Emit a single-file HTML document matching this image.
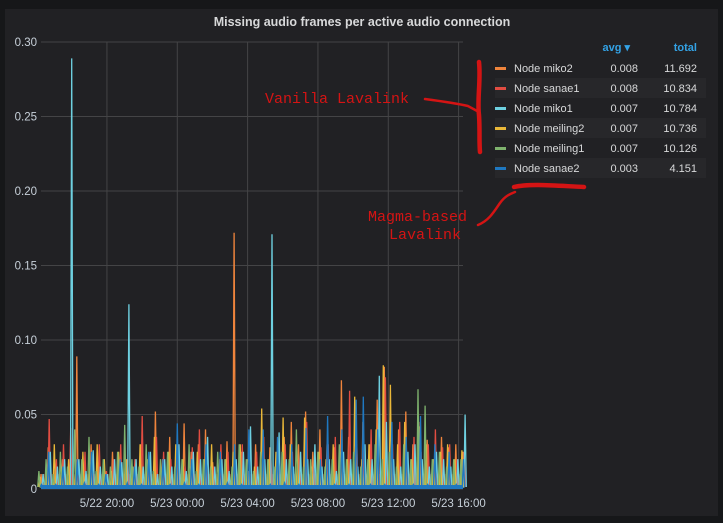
<!DOCTYPE html>
<html><head><meta charset="utf-8"><style>
html,body{margin:0;padding:0;background:#161719;width:723px;height:523px;overflow:hidden;font-family:"Liberation Sans",sans-serif}
#panel{position:absolute;left:5px;top:9px;width:713px;height:507px;background:#212124}
svg{position:absolute;left:0;top:0}
</style></head><body>
<div id="panel"></div>
<svg id="chart" width="723" height="523"></svg>
<script>
const timeLabels=["5/22 20:00","5/23 00:00","5/23 04:00","5/23 08:00","5/23 12:00","5/23 16:00"];
const timeTickHours=[3.75,7.75,11.75,15.75,19.75,23.75];
const yTicks=[0,0.05,0.10,0.15,0.20,0.25,0.30];
const yTickLabels=["0","0.05","0.10","0.15","0.20","0.25","0.30"];
const seriesNames=["Node miko2","Node sanae1","Node miko1","Node meiling2","Node meiling1","Node sanae2"];
const seriesColors=["#ef843c","#e24d42","#6ed0e0","#eab839","#7eb26d","#1f78c1"];
const seriesAvg=["0.008","0.008","0.007","0.007","0.007","0.003"];
const seriesTotal=["11.692","10.834","10.784","10.736","10.126","4.151"];
const miko2=[0.01,0.028,0.015,0.02,0.008,0.089,0.012,0.03,0.018,0.01,0.025,0.015,0.02,0.012,0.03,0.018,0.052,0.02,0.035,0.015,0.044,0.025,0.03,0.04,0.018,0.02,0.032,0.172,0.025,0.012,0.03,0.02,0.028,0.018,0.035,0.045,0.03,0.052,0.025,0.04,0.03,0.028,0.073,0.035,0.02,0.045,0.03,0.06,0.082,0.035,0.04,0.052,0.03,0.045,0.033,0.02,0.035,0.028,0.03,0.025];
const sanae1=[0.005,0.047,0.02,0.03,0.041,0.01,0.025,0.015,0.03,0.012,0.02,0.03,0.015,0.02,0.049,0.012,0.035,0.025,0.02,0.03,0.015,0.028,0.04,0.02,0.015,0.03,0.025,0.02,0.03,0.012,0.025,0.035,0.02,0.018,0.03,0.025,0.02,0.045,0.015,0.028,0.03,0.035,0.012,0.066,0.03,0.025,0.04,0.02,0.075,0.03,0.045,0.02,0.035,0.025,0.03,0.04,0.028,0.03,0.02,0.025];
const miko1=[0.01,0.025,0.015,0.02,0.289,0.02,0.012,0.026,0.015,0.01,0.02,0.018,0.124,0.02,0.015,0.025,0.01,0.02,0.015,0.03,0.012,0.025,0.02,0.035,0.015,0.02,0.012,0.02,0.025,0.042,0.015,0.02,0.171,0.038,0.02,0.015,0.025,0.02,0.03,0.015,0.02,0.012,0.025,0.02,0.015,0.03,0.02,0.076,0.045,0.02,0.015,0.025,0.03,0.02,0.015,0.025,0.02,0.015,0.02,0.05];
const meiling2=[0.008,0.012,0.03,0.015,0.02,0.01,0.025,0.018,0.03,0.02,0.012,0.025,0.02,0.015,0.03,0.02,0.035,0.012,0.025,0.03,0.02,0.015,0.025,0.02,0.03,0.012,0.02,0.025,0.03,0.02,0.015,0.054,0.02,0.025,0.048,0.03,0.02,0.048,0.015,0.025,0.02,0.03,0.025,0.02,0.062,0.02,0.03,0.04,0.083,0.07,0.03,0.045,0.02,0.042,0.03,0.02,0.025,0.03,0.02,0.026];
const meiling1=[0.012,0.02,0.01,0.025,0.015,0.04,0.02,0.035,0.012,0.02,0.015,0.025,0.043,0.02,0.015,0.03,0.012,0.02,0.025,0.015,0.02,0.03,0.012,0.02,0.015,0.025,0.02,0.015,0.03,0.02,0.012,0.025,0.02,0.015,0.025,0.02,0.04,0.015,0.02,0.025,0.015,0.02,0.03,0.02,0.025,0.015,0.02,0.03,0.02,0.025,0.015,0.03,0.02,0.067,0.056,0.02,0.025,0.015,0.02,0.02];
const sanae2=[0.003,0.025,0.003,0.015,0.002,0.02,0.004,0.025,0.003,0.01,0.002,0.02,0.004,0.015,0.003,0.025,0.002,0.02,0.003,0.044,0.004,0.02,0.003,0.03,0.002,0.025,0.004,0.03,0.003,0.04,0.002,0.04,0.003,0.035,0.004,0.03,0.003,0.041,0.002,0.02,0.049,0.003,0.04,0.003,0.06,0.062,0.003,0.04,0.003,0.045,0.002,0.035,0.003,0.049,0.003,0.03,0.002,0.025,0.003,0.02];
const seriesData=[miko2,sanae1,miko1,meiling2,meiling1,sanae2];
const seriesOffset=[0.0,0.35,0.7,-0.35,-0.7,0.15];

const NS="http://www.w3.org/2000/svg";
const svg=document.getElementById('chart');
const L=41,R=463,T=42,B=489,SPAN=24;
function xH(h){return L+(h/SPAN)*(R-L);}
function xI(i,n){return xH(i*SPAN/(n-1));}
function yV(v){return B-(v/0.30)*(B-T);}
function mk(tag,attrs,txt){const e=document.createElementNS(NS,tag);for(const k in attrs)e.setAttribute(k,attrs[k]);if(txt!==undefined)e.textContent=txt;svg.appendChild(e);return e;}

let t=mk('text',{x:362,y:26,'text-anchor':'middle',fill:'#d8d9da','font-size':12.5,'font-weight':'bold'},'Missing audio frames per active audio connection');



yTicks.forEach((v,i)=>{
  const g=mk('line',{x1:L,x2:R,y1:yV(v),y2:yV(v),stroke:'#444446','stroke-width':1});
  
  
  const lb=mk('text',{x:37,y:yV(v)+4,'text-anchor':'end',fill:'#c7d0d9','font-size':11.5},yTickLabels[i]);
  
  
});
timeTickHours.forEach((h,i)=>{
  const g=mk('line',{x1:xH(h),x2:xH(h),y1:T,y2:B,stroke:'#444446','stroke-width':1});
  
  
  const lb=mk('text',{x:xH(h),y:507,'text-anchor':'middle',fill:'#c7d0d9','font-size':11.5},timeLabels[i]);
  
  
});

// low-level dense band
const band=mk('rect',{x:L,y:yV(0.01),width:R-L,height:B-yV(0.01),fill:'#d8573a',opacity:0.45});



seriesData.forEach((arr,s)=>{
  const n=arr.length;
  let d='';
  arr.forEach((v,i)=>{
    const x=xI(i,n)+seriesOffset[s]*3;
    const x0=(x-1.2).toFixed(1), x1=(x+1.2).toFixed(1);
    d+=(i===0?'M':'L')+x0+','+(B-2).toFixed(1)+' L'+x.toFixed(1)+','+yV(v).toFixed(1)+' L'+x1+','+(B-2).toFixed(1)+' ';
  });
  const p=mk('path',{d:d,fill:'none',stroke:seriesColors[s],'stroke-width':1.3});
  
  
});
const base=mk('rect',{x:L,y:B-4,width:R-L,height:4,fill:'#1f78c1'});



// legend
let h1=mk('text',{x:630,y:51,'text-anchor':'end',fill:'#33a2e5','font-size':11,'font-weight':'bold'},'avg ▾');


let h2=mk('text',{x:697,y:51,'text-anchor':'end',fill:'#33a2e5','font-size':11,'font-weight':'bold'},'total');


seriesNames.forEach((n,i)=>{
  const y=68+i*20;
  if(i%2===1){
    const bg=mk('rect',{x:495,y:y-10,width:211,height:20,fill:'#27272a'});
    
    
  }
  const sw=mk('rect',{x:495,y:y-1,width:11,height:3,fill:seriesColors[i]});
  
  
  const tx=mk('text',{x:514,y:y+4,fill:'#d8d9da','font-size':11},n);
  
  
  const a=mk('text',{x:638,y:y+4,'text-anchor':'end',fill:'#d8d9da','font-size':11},seriesAvg[i]);
  
  
  const tt=mk('text',{x:697,y:y+4,'text-anchor':'end',fill:'#d8d9da','font-size':11},seriesTotal[i]);
  
  
});

// annotations
const red='#d41414';
let a1=mk('text',{x:265,y:103,fill:red,'font-size':15,'font-family':'Liberation Mono, monospace'},'Vanilla Lavalink');


let a2=mk('text',{x:368,y:221,fill:red,'font-size':15,'font-family':'Liberation Mono, monospace'},'Magma-based');


let a3=mk('text',{x:389,y:239,fill:red,'font-size':15,'font-family':'Liberation Mono, monospace'},'Lavalink');


let s1=mk('path',{d:'M425,99 C440,101 455,103 468,106 L479,112',fill:'none',stroke:red,'stroke-width':2.5,'stroke-linecap':'round'});


let s2=mk('path',{d:'M479,62 C481,80 477,100 479,115 C480,130 479,142 480,152',fill:'none',stroke:red,'stroke-width':4.5,'stroke-linecap':'round'});


let s3=mk('path',{d:'M478,225 C490,220 495,210 500,203 C505,196 510,194 515,192',fill:'none',stroke:red,'stroke-width':2.5,'stroke-linecap':'round'});


let s4=mk('path',{d:'M514,187 C530,183 560,186 584,187',fill:'none',stroke:red,'stroke-width':4.5,'stroke-linecap':'round'});


</script>
</body></html>
